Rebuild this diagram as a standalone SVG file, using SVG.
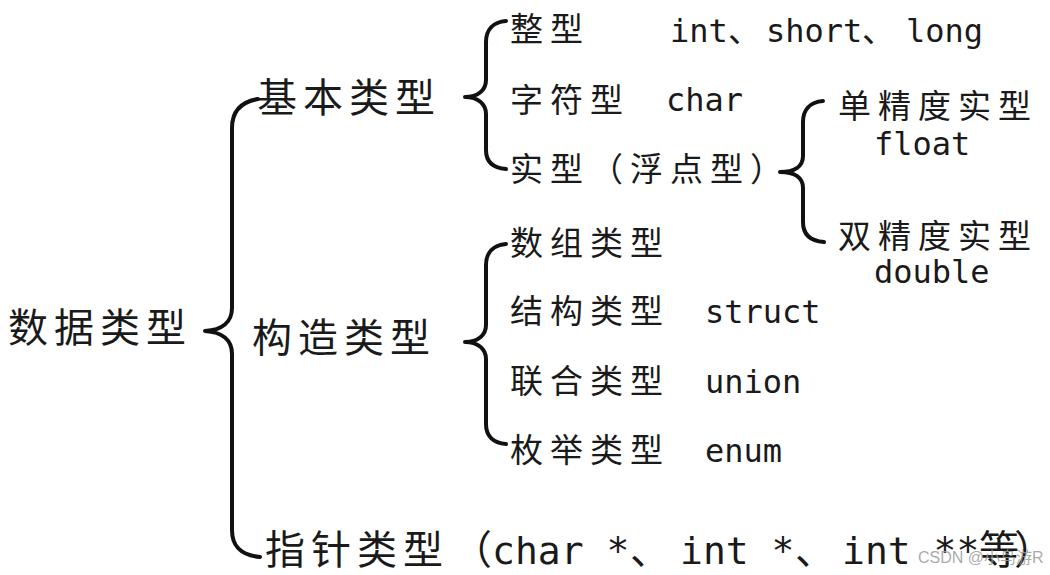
<svg xmlns="http://www.w3.org/2000/svg" width="1050" height="575" viewBox="0 0 1050 575">
<style>
.bg{fill:#ffffff}
.br{fill:none;stroke:#111;stroke-width:4;stroke-linecap:round;stroke-linejoin:round}
.l1{font-family:"Noto Sans CJK SC","Noto Sans",sans-serif;font-size:40px;letter-spacing:6px;fill:#1a1a1a}
.l2{font-family:"Noto Sans CJK SC","Noto Sans",sans-serif;font-size:33px;letter-spacing:7px;fill:#1a1a1a}
.mono{font-family:"DejaVu Sans Mono","Liberation Mono","Noto Sans CJK SC",monospace;font-size:32px;fill:#1a1a1a}
.mono38{font-family:"DejaVu Sans Mono","Liberation Mono","Noto Sans CJK SC",monospace;font-size:38px;fill:#1a1a1a}
.cjk{font-family:"Noto Sans CJK SC",sans-serif}
.wm{font-family:"Liberation Sans","Noto Sans CJK SC",sans-serif;font-size:16px;fill:#9a9a9a;fill-opacity:0.85}
</style>
<rect class="bg" x="0" y="0" width="1050" height="575"/>
<g id="connectors">
<path class="br" d="M258,99 C240,102 232,112 232,128 L232,308 C232,322 222,330 205,331 C222,332 232,340 232,354 L232,530 C232,546 240,555 260,557"/>
<path class="br" d="M506,21 C493,22 486,30 486,42 L486,80 C486,90 478,97 465,97 C478,97 486,104 486,114 L486,150 C486,162 493,168 506,169"/>
<path class="br" d="M823,101 C810,102 803,110 803,122 L803,156 C803,166 795,172 780,172 C795,172 803,178 803,188 L803,222 C803,234 810,241 824,242"/>
<path class="br" d="M506,244 C493,245 486,253 486,265 L486,325 C486,335 478,342 465,342 C478,342 486,349 486,359 L486,424 C486,436 493,443 506,444"/>
</g>
<g id="n-root"><text class="l1" x="8" y="342">数据类型</text></g>
<g id="n-basic"><text class="l1" x="257" y="112">基本类型</text></g>
<g id="n-construct"><text class="l1" x="252" y="352">构造类型</text></g>
<g id="n-pointer"><text class="l1" x="265" y="564">指针类型<tspan class="cjk" x="452" style="font-size:40px;letter-spacing:0">（</tspan><tspan class="mono38" x="492" style="letter-spacing:0">char *</tspan><tspan class="cjk" x="630" style="letter-spacing:0">、</tspan><tspan class="mono38" x="680" style="letter-spacing:0">int *</tspan><tspan class="cjk" x="795" style="letter-spacing:0">、</tspan><tspan class="mono38" x="842" style="letter-spacing:0">int **</tspan><tspan class="cjk" x="979" style="letter-spacing:0">等</tspan><tspan class="cjk" x="1014" style="letter-spacing:0">）</tspan></text></g>
<g id="n-int"><text class="l2" x="510" y="41">整型</text><text class="mono" y="42"><tspan x="670">int</tspan><tspan class="cjk" x="728" style="font-size:33px">、</tspan><tspan x="766">short</tspan><tspan class="cjk" x="862" style="font-size:33px">、</tspan><tspan x="906">long</tspan></text></g>
<g id="n-char"><text class="l2" x="510" y="112">字符型</text><text class="mono" x="666" y="111">char</text></g>
<g id="n-real"><text class="l2" x="510" y="181">实型（浮点型）</text></g>
<g id="n-float"><text class="l2" x="838" y="118">单精度实型</text><text class="mono" x="874" y="155">float</text></g>
<g id="n-double"><text class="l2" x="838" y="248">双精度实型</text><text class="mono" x="874" y="283">double</text></g>
<g id="n-array"><text class="l2" x="510" y="255">数组类型</text></g>
<g id="n-struct"><text class="l2" x="510" y="323">结构类型</text><text class="mono" x="705" y="323">struct</text></g>
<g id="n-union"><text class="l2" x="510" y="393">联合类型</text><text class="mono" x="705" y="393">union</text></g>
<g id="n-enum"><text class="l2" x="510" y="462">枚举类型</text><text class="mono" x="705" y="462">enum</text></g>
<text class="wm" x="918" y="563">CSDN @小鸟游R</text>
</svg>
